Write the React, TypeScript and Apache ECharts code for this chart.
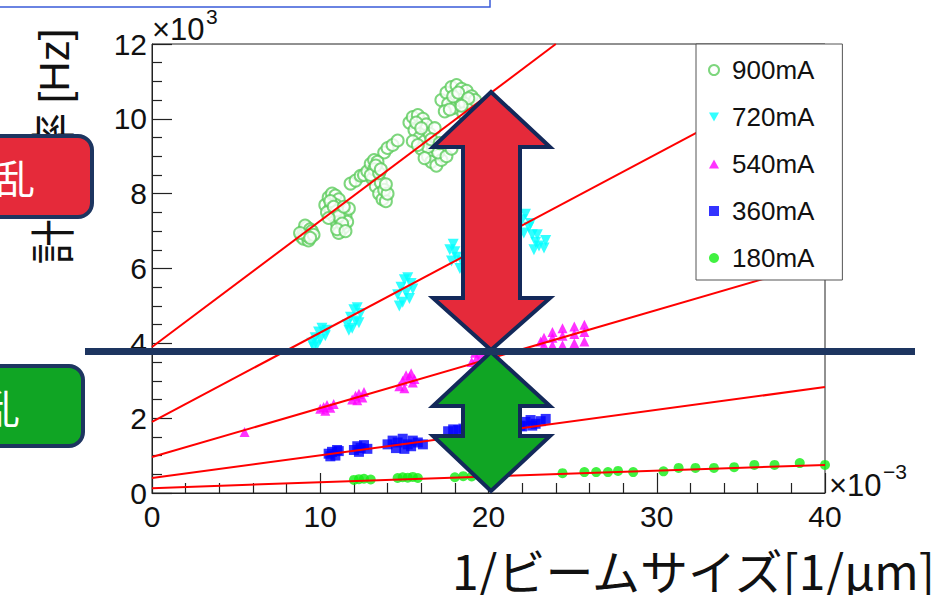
import React, { useEffect, useRef } from "react";
import * as echarts from "echarts";

// ---- data (x: 1/beam size [1e-3 /µm], y: count rate [Hz]) ----
const seriesNames = ["900mA", "720mA", "540mA", "360mA", "180mA"];

const pts900: number[][] = [
  [8.9, 6850], [9.0, 7000], [9.1, 6950], [9.2, 7100], [9.3, 6900], [9.1, 7150], [9.4, 7050], [9.0, 6800], [9.3, 6750], [9.5, 7000], [9.2, 6880],
  [9.6, 6900], [8.8, 6950], [9.4, 6820],
  [10.3, 7700], [10.5, 7900], [10.7, 8000], [10.9, 7950], [11.1, 7850], [10.6, 7600], [10.8, 7400], [11.0, 7200], [11.2, 7000], [11.4, 7100],
  [11.3, 7500], [10.9, 7700], [11.2, 7300], [11.5, 7400], [11.6, 7250], [10.4, 7500], [11.0, 7550], [11.1, 6950], [11.7, 7600],
  [10.6, 7800], [10.8, 7650], [11.1, 7400], [11.3, 7200], [11.4, 7650], [10.5, 7350], [11.0, 7050], [11.5, 7000],
  [11.8, 8270], [12.1, 8350], [12.4, 8480], [12.6, 8500], [13.8, 9100], [14.0, 9220], [14.3, 9300], [14.6, 9420],
  [12.8, 8600], [13.0, 8800], [13.2, 8900], [13.4, 8850], [13.1, 8400], [13.3, 8200], [13.5, 8000], [13.7, 7850], [13.9, 7800],
  [13.6, 8300], [13.8, 8100], [13.2, 8650], [13.0, 8500], [14.0, 8000], [13.5, 8550], [13.3, 8750], [13.6, 8650], [13.9, 8250],
  [15.3, 9900], [15.5, 10050], [15.8, 10100], [16.1, 10000], [16.3, 9850], [15.6, 9700], [15.9, 9500], [16.2, 9400], [16.0, 9200],
  [16.4, 9000], [16.6, 8850], [16.9, 8750], [17.2, 8900], [16.7, 9300], [17.0, 9100], [17.5, 9000], [17.8, 9200], [15.5, 9400],
  [16.5, 9600], [16.8, 9750], [15.7, 9900], [16.0, 9750], [16.4, 9250], [16.2, 8950], [16.6, 9450], [15.8, 9300], [17.1, 9350],
  [17.2, 10500], [17.5, 10700], [17.8, 10850], [18.1, 10900], [18.4, 10800], [18.7, 10750], [19.0, 10600], [17.6, 10400],
  [18.0, 10300], [18.3, 10500], [18.6, 10400], [18.9, 10300], [19.2, 10500], [17.9, 10600], [18.5, 10150], [17.4, 10200],
  [18.2, 10700], [18.8, 10550], [17.7, 10250], [18.4, 10350],
];
const pts720: number[][] = [
  [9.5, 4000], [9.7, 4150], [9.9, 4300], [10.1, 4400], [10.3, 4200], [9.8, 3950], [10.0, 4100], [10.4, 4350], [9.6, 3900],
  [11.6, 4500], [11.8, 4700], [12.0, 4900], [12.2, 4950], [12.4, 4800], [11.9, 4400], [12.1, 4600], [12.3, 4550], [11.7, 4350],
  [14.6, 5300], [14.8, 5500], [15.0, 5700], [15.2, 5750], [15.4, 5600], [14.9, 5100], [15.1, 5350], [15.3, 5200], [15.5, 5450], [14.7, 5000],
  [17.7, 6500], [17.9, 6650], [18.1, 6300], [18.3, 6000], [18.0, 6450], [18.4, 6200], [17.8, 6200],
  [22.0, 7300], [22.2, 7450], [22.4, 7100], [22.6, 6900], [22.8, 6700], [23.0, 6600], [23.3, 6550], [22.5, 7200], [22.9, 6900],
  [23.4, 6750], [22.1, 6950], [22.7, 6500],
];
const pts540: number[][] = [
  [5.5, 1630],
  [10.0, 2250], [10.2, 2300], [10.4, 2350], [10.6, 2280], [10.8, 2380], [10.3, 2200],
  [11.9, 2500], [12.1, 2600], [12.3, 2650], [12.5, 2550], [12.2, 2480], [12.6, 2700],
  [14.7, 2850], [14.9, 3000], [15.1, 3150], [15.3, 3100], [15.5, 2950], [15.0, 2800], [15.4, 3200], [15.6, 3050],
  [19.0, 3500], [19.3, 3600], [19.6, 3700], [19.2, 3750],
  [23.1, 4050], [23.3, 3950], [23.3, 4150], [23.8, 3950], [23.8, 4150], [23.8, 4300], [24.4, 3950], [24.4, 4200], [24.4, 4400],
  [25.1, 4000], [25.1, 4250], [25.1, 4450], [25.7, 4050], [25.7, 4300], [25.7, 4500],
];
const pts360: number[][] = [
  [10.5, 1050], [10.7, 1100], [10.9, 1000], [11.1, 1120], [10.6, 980], [11.0, 1150],
  [12.0, 1150], [12.2, 1250], [12.4, 1200], [12.6, 1280], [12.8, 1180], [12.3, 1100],
  [14.0, 1300], [14.3, 1400], [14.6, 1350], [14.9, 1450], [15.2, 1300], [15.5, 1400], [15.8, 1350], [16.1, 1300], [14.5, 1200], [15.0, 1180], [15.4, 1250],
  [17.6, 1650], [17.9, 1700], [18.2, 1680], [18.5, 1720],
  [21.9, 1800], [22.2, 1900], [22.5, 1950], [22.8, 1850], [23.1, 1920], [23.4, 1980], [22.0, 1780], [22.6, 1800],
];
const pts180: number[][] = [
  [12.0, 350], [12.3, 370], [12.6, 380], [13.0, 360], [14.6, 400], [14.9, 420], [15.2, 410], [15.5, 430], [15.8, 400],
  [18.0, 420], [18.5, 450], [19.0, 440], [19.5, 460],
  [24.4, 530], [25.7, 560], [26.4, 560], [27.1, 560], [27.7, 590], [28.6, 560], [30.4, 580], [31.3, 670], [32.3, 670],
  [33.4, 670], [34.6, 690], [35.8, 750], [37.0, 750], [38.5, 800], [40.0, 750],
];

// linear fits: [x, y] end points
const fit900: number[][] = [[0, 3900], [24, 12000]];
const fit720: number[][] = [[0, 1900], [40, 11450]];
const fit540: number[][] = [[0, 960], [40, 6200]];
const fit360: number[][] = [[0, 400], [40, 2830]];
const fit180: number[][] = [[0, 130], [40, 750]];

const xTicks = [0, 10, 20, 30, 40];
const yTickStep = 2000;

const LATIN = "'Liberation Sans', Arial, sans-serif";
const CJK = "'Noto Sans CJK JP', 'Noto Sans', sans-serif";
const NAVY = "#13295a";

export default function App() {
  const ref = useRef<HTMLDivElement>(null);
  useEffect(() => {
    if (!ref.current) return;
    const chart = echarts.init(ref.current, null, { renderer: "svg" });
    const axisCommon = {
      axisLine: { show: true, onZero: false, lineStyle: { color: "#222", width: 1 } },
      axisTick: { show: true, inside: true, length: 20, lineStyle: { color: "#222", width: 1.2 } },
      minorTick: { show: true, length: 10, lineStyle: { color: "#222", width: 1.2 } },
      splitLine: { show: false },
    };
    const fitSeries = (d: number[][]) => ({
      type: "line",
      data: d,
      symbol: "none",
      lineStyle: { color: "#ff0000", width: 2 },
      silent: true,
      z: 3,
    });
    chart.setOption({
      animation: false,
      backgroundColor: "#fff",
      grid: { left: 152, top: 44, width: 673, height: 449, show: true, borderColor: "#222", borderWidth: 1, backgroundColor: "transparent" },
      xAxis: {
        type: "value", min: xTicks[0], max: xTicks[xTicks.length - 1], interval: 10,
        ...axisCommon,
        minorTick: { ...axisCommon.minorTick, splitNumber: 5 },
        axisLabel: { fontSize: 30, color: "#111", fontFamily: LATIN, margin: 8 },
      },
      yAxis: {
        type: "value", min: 0, max: 12000, interval: yTickStep,
        ...axisCommon,
        minorTick: { ...axisCommon.minorTick, splitNumber: 4 },
        axisLabel: { fontSize: 30, color: "#111", fontFamily: LATIN, margin: 5, formatter: (v: number) => String(v / 1000) },
      },
      legend: {
        data: [
          { name: seriesNames[0], icon: "emptyCircle" },
          { name: seriesNames[1], icon: "path://M0,0L10,0L5,9Z" },
          { name: seriesNames[2], icon: "path://M5,0L10,9L0,9Z" },
          { name: seriesNames[3], icon: "rect" },
          { name: seriesNames[4], icon: "circle" },
        ],
        orient: "vertical",
        left: 696, top: 44,
        padding: [12, 28, 8, 12],
        itemGap: 19,
        itemWidth: 10, itemHeight: 10,
        backgroundColor: "#fff",
        borderColor: "#555", borderWidth: 1,
        textStyle: { fontSize: 26, color: "#111", fontFamily: LATIN, lineHeight: 28, padding: [0, 0, 0, 8] },
      },
      series: [
        { name: seriesNames[0], type: "scatter", data: pts900, symbol: "emptyCircle", symbolSize: 12, itemStyle: { color: "#5ccc5c", borderColor: "#5ccc5c", borderWidth: 1 } },
        { name: seriesNames[1], type: "scatter", data: pts720, symbol: "triangle", symbolRotate: 180, symbolSize: 11, itemStyle: { color: "#00ffff" } },
        { name: seriesNames[2], type: "scatter", data: pts540, symbol: "triangle", symbolSize: 10, itemStyle: { color: "#ff00ff" } },
        { name: seriesNames[3], type: "scatter", data: pts360, symbol: "rect", symbolSize: 10, itemStyle: { color: "#0000ff" } },
        { name: seriesNames[4], type: "scatter", data: pts180, symbol: "circle", symbolSize: 10, itemStyle: { color: "#11ee11" } },
        fitSeries(fit900), fitSeries(fit720), fitSeries(fit540), fitSeries(fit360), fitSeries(fit180),
      ],
      graphic: [
        // top blue box edge
        { type: "rect", z: 50, shape: { x: -10, y: -30, width: 500, height: 37 }, style: { fill: "#fff", stroke: "#3a5bd9", lineWidth: 1.5 } },
        // exponent labels
        { type: "text", z: 50, x: 152, y: 29, style: { text: "×10", fontSize: 31, fontFamily: LATIN, fill: "#111", verticalAlign: "middle" } },
        { type: "text", z: 50, x: 206, y: 16, style: { text: "3", fontSize: 21, fontFamily: LATIN, fill: "#111", verticalAlign: "middle" } },
        { type: "text", z: 50, x: 829, y: 485, style: { text: "×10", fontSize: 31, fontFamily: LATIN, fill: "#111", verticalAlign: "middle" } },
        { type: "text", z: 50, x: 883, y: 471, style: { text: "−3", fontSize: 21, fontFamily: LATIN, fill: "#111", verticalAlign: "middle" } },
        // y axis title (rotated)
        { type: "text", z: 50, x: 50, y: 242, rotation: Math.PI / 2, style: { text: "計", fontSize: 45, fontFamily: CJK, fill: "#111", align: "center", verticalAlign: "middle" } },
        { type: "text", z: 50, x: 50, y: 196, rotation: Math.PI / 2, style: { text: "数", fontSize: 45, fontFamily: CJK, fill: "#111", align: "center", verticalAlign: "middle" } },
        { type: "text", z: 50, x: 50, y: 135, rotation: Math.PI / 2, style: { text: "率", fontSize: 45, fontFamily: CJK, fill: "#111", align: "center", verticalAlign: "middle" } },
        { type: "text", z: 50, x: 54, y: 66, rotation: Math.PI / 2, style: { text: "[Hz]", fontSize: 42, fontFamily: LATIN, fill: "#111", align: "center", verticalAlign: "middle" } },
        // x axis title
        { type: "text", z: 50, x: 935, y: 569, style: { text: "1/ビームサイズ[1/μm]", fontSize: 48, fontFamily: CJK, fill: "#111", align: "right", verticalAlign: "middle" } },
        // red label box
        { type: "rect", z: 60, shape: { x: -30, y: 136, width: 122, height: 81, r: 14 }, style: { fill: "#e52a3a", stroke: "#1d3560", lineWidth: 4 } },
        { type: "text", z: 61, x: 35, y: 177, style: { text: "乱", fontSize: 40, fontFamily: CJK, fill: "#fff", align: "right", verticalAlign: "middle" } },
        // green label box
        { type: "rect", z: 60, shape: { x: -40, y: 366, width: 123, height: 80, r: 14 }, style: { fill: "#10a524", stroke: "#1d3560", lineWidth: 4 } },
        { type: "text", z: 61, x: 20, y: 407, style: { text: "乱", fontSize: 40, fontFamily: CJK, fill: "#fff", align: "right", verticalAlign: "middle" } },
        // red double arrow
        {
          type: "polygon", z: 70,
          shape: { points: [[491, 92], [550, 147], [520, 147], [520, 298], [550, 298], [491, 350], [433, 298], [463, 298], [463, 147], [433, 147]] },
          style: { fill: "#e52a3a", stroke: NAVY, lineWidth: 4, lineJoin: "miter" },
        },
        // green double arrow
        {
          type: "polygon", z: 70,
          shape: { points: [[491, 352], [550, 406], [520, 406], [520, 436], [550, 436], [491, 491], [433, 436], [463, 436], [463, 406], [433, 406]] },
          style: { fill: "#10a524", stroke: NAVY, lineWidth: 4, lineJoin: "miter" },
        },
        // horizontal navy line
        { type: "line", z: 80, shape: { x1: 85, y1: 351.5, x2: 915, y2: 351.5 }, style: { stroke: "#1d3560", lineWidth: 7 } },
      ],
    });
    return () => chart.dispose();
  }, []);
  return <div ref={ref} style={{ position: "fixed", left: 0, top: 0, width: 937, height: 595 }} />;
}
